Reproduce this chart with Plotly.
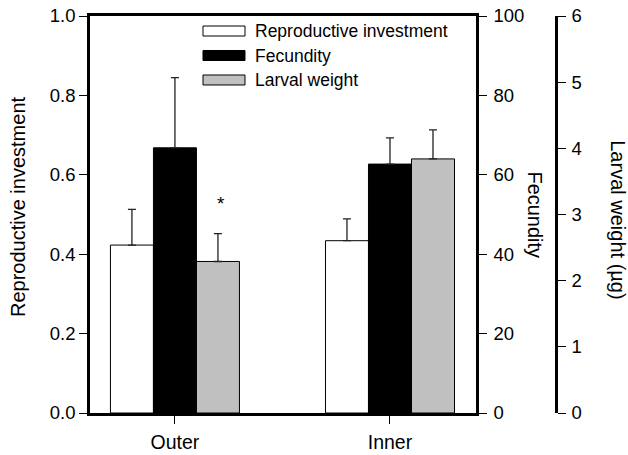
import plotly.graph_objects as go

# ---- data ----
sites = ["Outer", "Inner"]
repro = [0.423, 0.434]
repro_se = [0.090, 0.055]
fecund = [66.8, 62.7]
fecund_se = [17.7, 6.6]
larval = [2.29, 3.84]
larval_se = [0.42, 0.44]
series_names = ["Reproductive investment", "Fecundity", "Larval weight"]
fills = ["white", "black", "#c0c0c0"]
repro_ticks = [0, 0.2, 0.4, 0.6, 0.8, 1.0]
fecund_ticks = [0, 20, 40, 60, 80, 100]
larval_ticks = [0, 1, 2, 3, 4, 5, 6]

FONT = "Liberation Sans, Arial, Helvetica, sans-serif"

fig = go.Figure()


def bar(y, err, name, fill, axis, offset):
    return go.Bar(
        x=sites, y=y, name=name, yaxis=axis, width=0.2, offset=offset,
        marker=dict(color=fill, line=dict(color="black", width=1)),
        error_y=dict(type="data", array=err, arrayminus=[0] * len(err),
                     symmetric=False, color="#222", thickness=1.3, width=4),
        showlegend=False,
    )


fig.add_trace(bar(repro, repro_se, series_names[0], fills[0], "y", -0.3))
fig.add_trace(bar(fecund, fecund_se, series_names[1], fills[1], "y2", -0.1))
fig.add_trace(bar(larval, larval_se, series_names[2], fills[2], "y3", 0.1))

xdom_end = (476 - 90) / 470

axis_common = dict(showline=True, linecolor="black", linewidth=2.5, ticks="outside",
                   ticklen=8, tickwidth=1, tickcolor="black", showgrid=False,
                   zeroline=False, automargin=False,
                   tickfont=dict(family=FONT, size=18.5, color="black"))

fig.update_layout(
    width=628, height=455,
    margin=dict(l=90, r=68, t=16, b=42),
    paper_bgcolor="white", plot_bgcolor="white",
    barmode="overlay",
    font=dict(family=FONT, color="black"),
    xaxis=dict(type="category", categoryorder="array", categoryarray=sites,
               domain=[0, xdom_end], range=[-0.395, 1.4], mirror=True,
               showline=True, linecolor="black", linewidth=2.5, ticks="outside",
               ticklen=8, tickwidth=1, tickcolor="black", showgrid=False,
               ticklabelstandoff=2, automargin=False,
               tickfont=dict(family=FONT, size=19.5, color="black")),
    yaxis=dict(range=[0, 1.0], tickvals=repro_ticks, tickformat=".1f", **axis_common),
    yaxis2=dict(range=[0, 100], tickvals=fecund_ticks, overlaying="y", side="right",
                anchor="x", ticklabelstandoff=3, **axis_common),
    yaxis3=dict(range=[0, 6], tickvals=larval_ticks, overlaying="y", side="right",
                anchor="free", position=(556 - 90) / 470, ticklabelstandoff=2,
                **axis_common),
)

# axis titles
fig.add_annotation(text="Reproductive investment", xref="paper", yref="paper",
                   x=-0.1543, y=0.52, textangle=-90, showarrow=False,
                   xanchor="center", yanchor="middle",
                   font=dict(family=FONT, size=20, color="black"))
fig.add_annotation(text="Fecundity", xref="paper", yref="paper",
                   x=0.947, y=0.50, textangle=90, showarrow=False,
                   xanchor="center", yanchor="middle",
                   font=dict(family=FONT, size=20, color="black"))
fig.add_annotation(text="Larval weight (µg)", xref="paper", yref="paper",
                   x=1.123, y=0.486, textangle=90, showarrow=False,
                   xanchor="center", yanchor="middle",
                   font=dict(family=FONT, size=20, color="black"))

# significance marker
fig.add_annotation(text="*", x=0.2, y=3.19, xref="x", yref="y3", xshift=3,
                   yshift=-2, showarrow=False,
                   font=dict(family=FONT, size=19, color="black"))

# custom legend (wide rectangles)
box_x0, box_x1, text_x = 0.2404, 0.3298, 0.3468
row_top, row_step, box_h = 0.9622, 0.0617, 0.0252
for i, (nm, fc) in enumerate(zip(series_names, fills)):
    yc = row_top - i * row_step
    fig.add_shape(type="rect", xref="paper", yref="paper",
                  x0=box_x0, x1=box_x1, y0=yc - box_h / 2, y1=yc + box_h / 2,
                  fillcolor=fc, line=dict(color="black", width=1))
    fig.add_annotation(text=nm, xref="paper", yref="paper", x=text_x, y=yc,
                       xanchor="left", yanchor="middle", showarrow=False,
                       font=dict(family=FONT, size=17.5, color="black"))

fig.write_html("out.html")
